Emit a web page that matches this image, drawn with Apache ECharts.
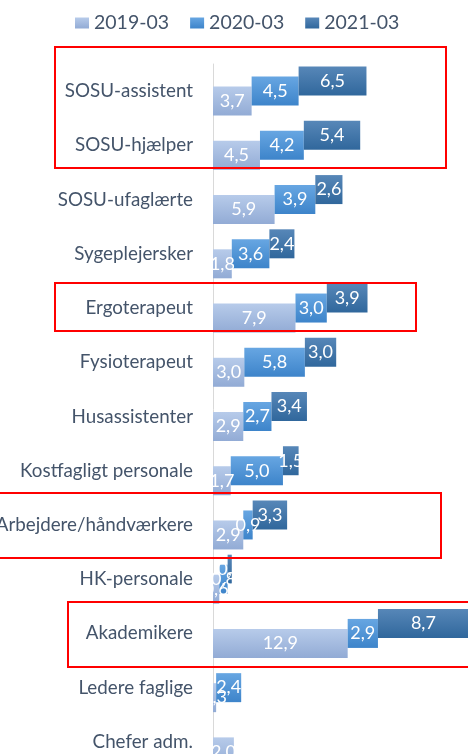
<!DOCTYPE html>
<html>
<head>
<meta charset="utf-8">
<title>Chart</title>
<script src="https://cdn.jsdelivr.net/npm/echarts@6/dist/echarts.min.js"></script>
<style>
  html, body { margin: 0; padding: 0; background: #fff; }
  #main { width: 468px; height: 754px; }
</style>
</head>
<body>
<div id="main"></div>
<script>
// kategorier, top til bund
var categories = ['SOSU-assistent', 'SOSU-hjælper', 'SOSU-ufaglærte', 'Sygeplejersker',
  'Ergoterapeut', 'Fysioterapeut', 'Husassistenter', 'Kostfagligt personale',
  'Arbejdere/håndværkere', 'HK-personale', 'Akademikere', 'Ledere faglige', 'Chefer adm.'];
var periods = ['2019-03', '2020-03', '2021-03'];
var v2019 = [3.7, 4.5, 5.9, 1.8, 7.9, 3.0, 2.9, 1.7, 2.9, 0.6, 12.9, 0.3, 2.0];
var v2020 = [4.5, 4.2, 3.9, 3.6, 3.0, 5.8, 2.7, 5.0, 0.9, 0.8, 2.9, 2.4, null];
var v2021 = [6.5, 5.4, 2.6, 2.4, 3.9, 3.0, 3.4, 1.5, 3.3, 0.4, 8.7, null, null];

var values = [v2019, v2020, v2021];
var colors = [
  ['#b7cbea', '#92abd5'],
  ['#67a6e2', '#3d84ca'],
  ['#5787b8', '#30679c']
];
var offsets = [10, 0, -10]; // lodret forskydning pr. serie
var barH = 29;
var font = 'Lato';

function grad(c) {
  return new echarts.graphic.LinearGradient(0, 0, 0, 1, [
    { offset: 0, color: c[0] },
    { offset: 1, color: c[1] }
  ]);
}

function fmt(v) {
  return v.toFixed(1).replace('.', ',');
}

// start/slut for hver bar (stablet vandret)
function buildData(s) {
  var out = [];
  categories.forEach(function (c, i) {
    var v = values[s][i];
    if (v == null) return;
    var start = 0;
    for (var k = 0; k < s; k++) start += values[k][i] || 0;
    out.push([start, start + v, i, v]);
  });
  return out;
}

function renderer(s) {
  return function (params, api) {
    var p0 = api.coord([api.value(0), api.value(2)]);
    var p1 = api.coord([api.value(1), api.value(2)]);
    return {
      type: 'rect',
      shape: { x: p0[0], y: p0[1] + offsets[s] - barH / 2, width: p1[0] - p0[0], height: barH },
      style: { fill: grad(colors[s]) },
      textContent: {
        style: { text: fmt(api.value(3)), fill: '#fff', fontSize: 18, fontFamily: font }
      },
      textConfig: { position: 'inside' }
    };
  };
}

var chart = echarts.init(document.getElementById('main'));

var series = periods.map(function (name, s) {
  return {
    name: name,
    type: 'custom',
    renderItem: renderer(s),
    itemStyle: { color: grad(colors[s]) },
    encode: { x: [0, 1], y: 2 },
    data: buildData(s)
  };
});

var option = {
  animation: false,
  legend: {
    data: periods,
    left: 70,
    top: 8,
    icon: 'rect',
    itemWidth: 14,
    itemHeight: 11,
    itemGap: 21,
    textStyle: { color: '#44546a', fontSize: 19.5, fontFamily: font }
  },
  grid: { left: 213, top: 64, width: 261, height: 705, outerBoundsMode: 'none' },
  xAxis: {
    type: 'value',
    min: 0,
    max: 25,
    show: false
  },
  yAxis: {
    type: 'category',
    data: categories,
    inverse: true,
    axisLine: { show: true, lineStyle: { color: '#d9d9d9' } },
    axisTick: { show: false },
    axisLabel: { color: '#44546a', fontSize: 18.8, fontFamily: font, margin: 20 }
  },
  series: series,
  // røde markeringer
  graphic: [
    { type: 'rect', shape: { x: 55, y: 47, width: 391, height: 121 }, style: { fill: 'none', stroke: '#ff0000', lineWidth: 2 }, z: 100 },
    { type: 'rect', shape: { x: 55, y: 283, width: 361, height: 48 }, style: { fill: 'none', stroke: '#ff0000', lineWidth: 2 }, z: 100 },
    { type: 'rect', shape: { x: -5, y: 493, width: 446, height: 65 }, style: { fill: 'none', stroke: '#ff0000', lineWidth: 2 }, z: 100 },
    { type: 'rect', shape: { x: 68, y: 602, width: 410, height: 65 }, style: { fill: 'none', stroke: '#ff0000', lineWidth: 2 }, z: 100 }
  ]
};

chart.setOption(option);
</script>
</body>
</html>
